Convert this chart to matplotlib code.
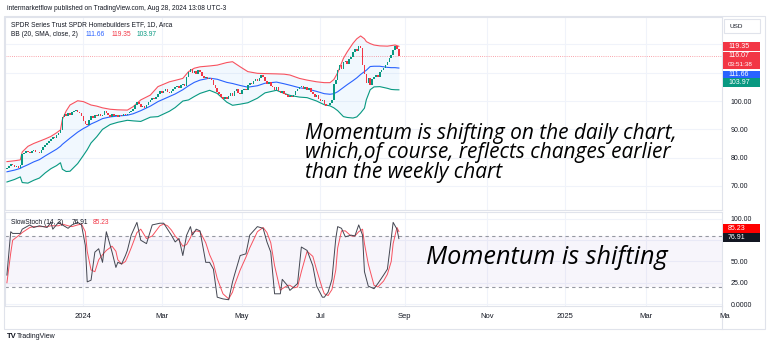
import numpy as np
import pandas as pd
import matplotlib
matplotlib.use("Agg")
import matplotlib.pyplot as plt
from matplotlib.patches import Rectangle

# ──────────────────────────────────────────────
# Data: XHB daily closes, 2023-11-02 .. 2024-08-28
# ──────────────────────────────────────────────
closes = [
    76.2, 77.0, 77.8, 77.3, 76.6, 77.1, 76.5, 77.4,
    81.3,
    81.8, 82.3, 82.0, 81.6, 82.2, 82.6, 81.9, 82.1, 81.5,
    82.8, 83.6, 84.4, 85.3,
    86.0, 86.6, 87.3, 87.0, 88.1, 88.8, 89.6,
    94.2, 95.4,
    94.8, 95.6, 95.2, 96.0, 96.4, 96.9, 96.2, 95.7,
    94.6,
    92.8, 92.0, 91.6,
    93.4, 94.6, 94.0, 95.2, 94.8, 95.5, 94.7, 95.0, 96.6, 95.8, 95.1, 94.5,
    95.3, 94.6, 95.0, 94.2, 95.1, 94.7, 95.4, 94.9, 95.6,
    96.0, 96.5, 97.2,
    98.6, 99.5, 98.8,
    97.9, 98.4, 97.6, 98.7,
    99.8, 100.4, 101.2, 100.6, 101.6,
    102.6, 103.4, 102.7, 103.6, 104.1, 103.2,
    102.8, 103.5, 104.2,
    104.8, 105.3, 104.6, 105.6, 106.2, 105.4,
    108.6, 110.4, 111.2, 110.0,
    110.6, 109.7, 110.8, 110.2,
    108.9, 108.2, 108.6, 107.8, 108.3, 107.5,
    105.8, 104.6, 103.2, 102.4, 101.6, 100.8, 101.4, 100.6,
    101.8, 102.9, 101.9, 103.4, 104.1, 103.0, 102.5, 103.8, 104.4,
    104.0, 105.6, 106.5, 106.0, 107.1, 107.8, 107.2, 108.3, 109.1, 108.4,
    107.0, 106.1, 106.8, 105.4, 104.8, 104.0, 104.9, 103.5, 102.8, 103.4,
    102.6, 102.2, 101.4, 101.9, 101.3, 102.3, 103.6, 104.4,
    104.8, 105.2, 104.3, 104.9, 103.8, 104.5, 103.2,
    102.4, 101.6, 102.2, 100.8, 99.9, 100.5, 98.9, 98.2, 98.6,
    99.4, 100.3,
    106.2,
    107.4, 110.8, 112.6, 111.4, 113.8,
    114.2, 113.0, 114.9, 115.6, 117.2,
    118.4, 117.6, 119.5, 118.8,
    112.9,
    109.6, 106.4, 108.2, 105.6, 107.8,
    108.4, 109.2, 108.6, 110.3, 110.9, 111.8,
    112.9, 113.8, 115.2, 116.4,
    117.9, 119.6, 118.4,
    116.07,
]
first_open = 76.0
last_price = 116.07

holidays = ["2023-11-23", "2023-12-25", "2024-01-01", "2024-01-15", "2024-02-19",
            "2024-03-29", "2024-05-27", "2024-06-19", "2024-07-04", "2024-09-02",
            "2024-11-28", "2024-12-25", "2025-01-01"]

# Bollinger Bands (20, SMA, close, 2) sampled at bar indices
bb_idx = [0, 4, 7, 8, 11, 14, 17, 20, 23, 26, 28, 29, 31, 33, 37, 40, 42, 44, 47, 50,
          54, 58, 63, 66, 70, 75, 79, 85, 88, 92, 95, 98, 101, 106, 110, 115, 118, 122,
          126, 131, 135, 141, 145, 148, 153, 157, 162, 166, 169, 171, 173, 176, 178, 181,
          183, 185, 187, 188, 190, 192, 195, 199, 201, 203, 205]
bb_upper = [78.6, 78.9, 79.2, 82.0, 84.0, 85.0, 85.8, 86.6, 87.5, 88.8, 89.8, 93.5, 96.5,
            98.6, 100.1, 99.8, 99.2, 98.6, 98.2, 97.6, 97.1, 96.9, 96.8, 98.0, 100.4,
            102.1, 105.1, 106.8, 107.3, 108.0, 110.4, 111.6, 112.1, 112.4, 112.7, 113.6,
            113.9, 112.1, 110.4, 109.8, 109.7, 109.6, 109.5, 109.2, 108.0, 107.4, 106.8,
            106.5, 106.5, 107.6, 110.0, 115.1, 117.4, 120.4, 122.0, 123.0, 122.0, 121.0,
            120.3, 119.8, 119.5, 119.4, 119.6, 119.8, 119.35]
bb_mid = [75.0, 75.6, 76.2, 76.6, 77.5, 78.5, 79.3, 80.6, 81.8, 83.0, 84.0, 84.7, 85.8,
          86.9, 89.0, 90.3, 91.0, 91.9, 92.8, 93.8, 94.4, 94.7, 95.0, 95.5, 96.6, 98.2,
          99.8, 101.6, 102.5, 104.0, 105.4, 106.6, 107.4, 108.1, 107.7, 106.6, 106.2,
          105.5, 104.9, 105.4, 106.3, 106.7, 106.1, 105.6, 104.7, 104.3, 103.4, 102.6,
          102.4, 102.6, 103.3, 104.8, 105.8, 107.2, 108.2, 109.4, 110.4, 110.9, 112.2,
          112.3, 112.3, 111.9, 111.8, 111.8, 111.66]
bb_lower = [71.4, 72.3, 73.2, 71.2, 71.0, 72.0, 72.8, 74.6, 76.1, 77.2, 78.2, 75.9, 75.1,
            75.2, 77.9, 80.8, 82.8, 85.2, 87.4, 90.0, 91.7, 92.5, 93.2, 93.0, 92.8, 94.3,
            94.5, 96.4, 97.7, 100.0, 100.4, 101.6, 102.7, 103.8, 102.7, 99.6, 98.5, 98.9,
            99.4, 101.0, 102.9, 103.8, 102.7, 102.0, 101.4, 101.2, 100.0, 98.7, 98.3,
            97.6, 96.6, 94.5, 94.2, 94.0, 94.4, 95.8, 97.5, 100.5, 104.0, 105.0, 105.1,
            104.5, 104.1, 104.0, 103.97]

# Slow stochastic (14, 3), sampled at bar indices
stoch_idx = [0, 2, 3, 7, 8, 12, 14, 17, 21, 23, 24, 27, 29, 32, 34, 37, 39, 41, 42, 44,
             46, 48, 50, 52, 55, 57, 58, 60, 62, 63, 65, 68, 70, 73, 76, 80, 82, 84, 86,
             88, 90, 92, 94, 96, 97, 99, 101, 104, 106, 108, 110, 113, 116, 118, 119, 122,
             125, 127, 131, 134, 136, 138, 140, 143, 144, 147, 148, 150, 152, 154, 157,
             160, 162, 165, 166, 168, 170, 172, 173, 175, 177, 180, 182, 184, 186, 187,
             189, 192, 194, 197, 199, 201, 202, 204, 205]
stoch_k = [34, 85, 83, 83, 88, 93, 90, 92, 90, 96, 88, 96, 93, 89, 93, 96, 93, 69, 26, 28,
           61, 65, 49, 85, 61, 43, 49, 47, 57, 63, 81, 96, 75, 71, 93, 95, 95, 88, 81,
           73, 77, 57, 81, 91, 81, 88, 86, 49, 49, 41, 8, 6, 5, 26, 34, 57,
           59, 81, 91, 89, 73, 61, 12, 12, 29, 21, 16, 20, 24, 67, 63,
           45, 21, 8, 8, 14, 29, 77, 91, 89, 79, 81, 80, 93, 81, 38,
           21, 18, 24, 34, 41, 77, 96, 88, 76.91]
stoch_d = [25, 60, 75, 82, 84, 90, 91, 91, 91, 92, 92, 92, 94, 92, 91, 93, 94, 85, 62, 40,
           38, 52, 58, 63, 68, 62, 52, 47, 50, 55, 66, 84, 88, 77, 80, 92, 94, 92, 87,
           80, 75, 68, 70, 78, 84, 86, 85, 72, 58, 48, 30, 12, 6, 14, 22, 40,
           55, 66, 85, 90, 84, 72, 45, 16, 18, 22, 22, 19, 20, 38, 62,
           56, 40, 18, 12, 10, 17, 40, 66, 86, 86, 80, 80, 85, 88, 71,
           47, 22, 20, 27, 35, 50, 71, 90, 85.23]

month_starts = ["2024-01-01", "2024-03-01", "2024-05-01", "2024-07-01", "2024-09-01",
                "2024-11-01", "2025-01-01", "2025-03-01"]
month_labels = ["2024", "Mar", "May", "Jul", "Sep", "Nov", "2025", "Mar"]

price_ticks = [70, 80, 90, 100, 110, 120]
price_tick_labels = ["70.00", "80.00", "90.00", "100.00", "", ""]
stoch_ticks = [0, 25, 50, 75, 100]
stoch_tick_labels = ["0.0000", "25.00", "50.00", "", "100.00"]

# ──────────────────────────────────────────────
# Style
# ──────────────────────────────────────────────
UP = "#089981"
DOWN = "#F23645"
BLUE = "#2962FF"
TEXT = "#131722"
GRID = "#f0f3fa"
BORDER = "#e0e3eb"
UI_FONT = ["Liberation Sans", "DejaVu Sans"]
NOTE_FONT = ["Open Sans", "Noto Sans", "DejaVu Sans"]

W, H = 768, 347


def fx(px):
    return px / W


def fy(py):
    return 1 - py / H


fig = plt.figure(figsize=(W / 100, H / 100), dpi=100)
fig.patch.set_facecolor("white")

ax = fig.add_axes([fx(5), fy(210), fx(722) - fx(5), fy(17) - fy(210)])
ax2 = fig.add_axes([fx(5), fy(306), fx(722) - fx(5), fy(212) - fy(306)], sharex=ax)

# trading-day calendar, used for the bar index axis
cal = pd.bdate_range("2023-11-02", "2025-06-30", freq="C", holidays=holidays)
n = len(closes)
x = np.arange(n)

# ── price panel ──
c = np.array(closes)
o = np.r_[first_open, c[:-1]]
up = c >= o
body_lo = np.minimum(o, c)
body_h = np.maximum(np.abs(c - o), 0.2)
ax.bar(x, body_h, bottom=body_lo, width=0.8, color=np.where(up, UP, DOWN),
       linewidth=0, zorder=3)

ax.fill_between(bb_idx, bb_upper, bb_lower, color="#2196F3", alpha=0.06, linewidth=0, zorder=1)
ax.plot(bb_idx, bb_upper, color="#F7525F", lw=0.8, zorder=2)
ax.plot(bb_idx, bb_mid, color=BLUE, lw=0.8, zorder=2)
ax.plot(bb_idx, bb_lower, color=UP, lw=0.8, zorder=2)
ax.axhline(last_price, color=DOWN, lw=0.6, ls=(0, (1, 1.6)), alpha=0.6, zorder=1)

ax.set_ylim(61.5, 129.7)
ax.set_xlim(-1.0, 374.0)

# ── stochastic panel ──
ax2.axhspan(20, 80, color="#7E57C2", alpha=0.06, linewidth=0)
for lvl in (80, 20):
    ax2.axhline(lvl, color="#9598a1", lw=0.8, ls=(0, (3, 3)))
ax2.plot(stoch_idx, stoch_d, color="#F7525F", lw=0.7, zorder=3)
ax2.plot(stoch_idx, stoch_k, color="#434651", lw=0.7, zorder=3)
ax2.set_ylim(-2.35, 108.2)

# ── axes, ticks, grid ──
tick_pos = [int(cal.searchsorted(pd.Timestamp(m))) for m in month_starts]
for a in (ax, ax2):
    a.set_facecolor("white")
    for s in a.spines.values():
        s.set_color(BORDER)
        s.set_linewidth(0.8)
    a.yaxis.tick_right()
    a.tick_params(axis="both", length=0, labelsize=5, labelcolor=TEXT, pad=6)
    a.grid(True, color=GRID, lw=0.8)
    a.set_axisbelow(True)

ax.set_yticks(price_ticks, price_tick_labels, family=UI_FONT)
ax2.set_yticks(stoch_ticks, stoch_tick_labels, family=UI_FONT)
ax2.set_xticks(tick_pos, month_labels, family=UI_FONT)
ax.tick_params(labelbottom=False)
ax2.tick_params(axis="x", labelsize=5.5, pad=5)
fig.text(fx(719), fy(317), "Ma", fontsize=5.5, color=TEXT, va="center", family=UI_FONT)

# outer frame and the price-scale column below the panels
fig.add_artist(Rectangle((fx(4), fy(329)), fx(765) - fx(4), fy(16) - fy(329),
                         transform=fig.transFigure, fill=False, ec=BORDER, lw=0.8))
fig.add_artist(plt.Line2D([fx(722), fx(722)], [fy(306), fy(329)],
                          transform=fig.transFigure, color=BORDER, lw=0.8))


def tag(py0, py1, lines, fc, tc="white"):
    """Coloured price tag on the right scale, drawn in figure pixels."""
    fig.add_artist(Rectangle((fx(723), fy(py1)), fx(760) - fx(723), fy(py0) - fy(py1),
                             transform=fig.transFigure, fc=fc, ec="none", zorder=5))
    step = (py1 - py0) / len(lines)
    for k, (txt, size) in enumerate(lines):
        fig.text(fx(728), fy(py0 + step * (k + 0.5)), txt, fontsize=size, color=tc,
                 va="center", ha="left", family=UI_FONT, zorder=6)


tag(41.5, 50.5, [("119.35", 5)], DOWN)
tag(51.5, 69.0, [("116.07", 5), ("03:51:38", 4.6)], DOWN)
tag(70.5, 79.5, [("111.66", 5)], BLUE)
tag(77.5, 86.5, [("103.97", 5)], UP)
tag(224.0, 233.0, [("85.23", 5)], "#FF0000")
tag(233.0, 242.0, [("76.91", 5)], TEXT)

# currency box
fig.add_artist(Rectangle((fx(724), fy(33)), fx(760) - fx(724), fy(18.5) - fy(33),
                         transform=fig.transFigure, fc="white", ec=BORDER, lw=0.8))
fig.text(fx(729), fy(26), "USD", fontsize=4.6, color=TEXT, va="center", family=UI_FONT)

# ── header and legends ──
fig.text(fx(7), fy(8), "intermarketflow published on TradingView.com, Aug 28, 2024 13:08 UTC-3",
         fontsize=4.8, color=TEXT, va="center", family=UI_FONT)
fig.text(fx(11), fy(25), "SPDR Series Trust SPDR Homebuilders ETF, 1D, Arca",
         fontsize=4.8, color=TEXT, va="center", family=UI_FONT)
fig.text(fx(11), fy(34), "BB (20, SMA, close, 2)", fontsize=4.8, color=TEXT, va="center",
         family=UI_FONT)
fig.text(fx(86), fy(34), f"{bb_mid[-1]:.2f}", fontsize=4.8, color=BLUE, va="center", family=UI_FONT)
fig.text(fx(112), fy(34), f"{bb_upper[-1]:.2f}", fontsize=4.8, color=DOWN, va="center",
         family=UI_FONT)
fig.text(fx(137), fy(34), f"{bb_lower[-1]:.2f}", fontsize=4.8, color=UP, va="center",
         family=UI_FONT)
fig.text(fx(11), fy(222), "SlowStoch (14, 3)", fontsize=4.8, color=TEXT, va="center",
         family=UI_FONT)
fig.text(fx(72), fy(222), f"{stoch_k[-1]:.2f}", fontsize=4.8, color=TEXT, va="center",
         family=UI_FONT)
fig.text(fx(93), fy(222), f"{stoch_d[-1]:.2f}", fontsize=4.8, color=DOWN, va="center",
         family=UI_FONT)

# ── annotations ──
fig.text(fx(305), fy(123),
         "Momentum is shifting on the daily chart,\nwhich,of course, reflects changes earlier\n"
         "than the weekly chart",
         fontsize=15.0, style="italic", color="black", va="top",
         ha="left", linespacing=0.9, family=NOTE_FONT)
fig.text(fx(426), fy(257), "Momentum is shifting", fontsize=18.2, style="italic",
         color="black", va="center", ha="left", family=NOTE_FONT)

# footer logo
fig.text(fx(7), fy(336), "TV", fontsize=5.5, weight="bold", color=TEXT, va="center",
         family=UI_FONT)
fig.text(fx(17), fy(336), "TradingView", fontsize=5, color=TEXT, va="center", family=UI_FONT)

fig.savefig("out.png", dpi=100, facecolor="white")
